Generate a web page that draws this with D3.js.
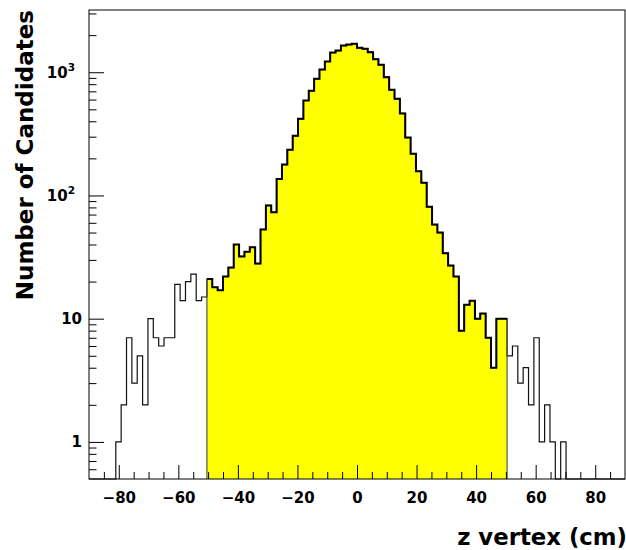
<!DOCTYPE html>
<html>
<head>
<meta charset="utf-8">
<script src="https://cdn.jsdelivr.net/npm/d3@7"></script>
<style>
  html, body { margin: 0; padding: 0; background: #fff; }
  svg { display: block; }
  text { font-family: "DejaVu Sans", sans-serif; font-weight: bold; fill: #000; }
</style>
</head>
<body>
<div id="chart"></div>
<script>
// histogram contents, 100 bins from -90 to 90 cm
const counts = [
  0, 0, 0, 0, 0, 1, 2, 7, 3, 5,
  2, 10, 7, 6, 7, 7, 19, 14, 20, 23,
  14, 15, 21, 18, 17, 22, 26, 40, 32, 35,
  38, 28, 53, 83, 73, 136, 178, 235, 305, 419,
  590, 707, 884, 1051, 1222, 1445, 1500, 1647, 1677, 1700,
  1578, 1548, 1455, 1277, 1149, 912, 720, 608, 463, 295,
  218, 157, 127, 81, 58, 50, 34, 27, 22, 8,
  13, 14, 10, 11, 7, 4, 10, 10, 5, 6,
  3, 4, 2, 7, 1, 2, 1, 0, 1, 0,
  0, 0, 0, 0, 0, 0, 0, 0, 0, 0
];
const xRange = [-90, 90];
const selBins = [22, 77];          // filled (yellow) bins, inclusive
const yRange = [0.5, 3200];

const xMajorTicks = [-80, -60, -40, -20, 0, 20, 40, 60, 80];
const xMinorTicks = [-85, -75, -70, -65, -55, -50, -45, -35, -30, -25, -15, -10, -5,
                     5, 10, 15, 25, 30, 35, 45, 50, 55, 65, 70, 75, 85];
const yMajorTicks = [1, 10, 100, 1000];
const yTickBase = ["1", "10", "10", "10"];
const yTickExp = ["", "", "2", "3"];
const yMinorTicks = [0.6, 0.7, 0.8, 0.9, 2, 3, 4, 5, 6, 7, 8, 9,
                     20, 30, 40, 50, 60, 70, 80, 90, 200, 300, 400, 500, 600, 700, 800, 900,
                     2000, 3000];
const xTitle = "z vertex (cm)";
const yTitle = "Number of Candidates";

const W = 626, H = 550;
const frame = { left: 89, right: 625, top: 10, bottom: 479 };

const svg = d3.select("#chart").append("svg")
  .attr("width", W).attr("height", H);

const x = d3.scaleLinear().domain(xRange).range([frame.left, frame.right]);
const y = d3.scaleLog().domain(yRange).range([frame.bottom, frame.top]);

const binW = (xRange[1] - xRange[0]) / counts.length;
const lo = i => xRange[0] + i * binW;

// step points for a range of bins
function stepPoints(from, to) {
  const pts = [[lo(from), yRange[0]]];
  for (let i = from; i <= to; i++) {
    const v = Math.max(counts[i], yRange[0]);
    pts.push([lo(i), v], [lo(i + 1), v]);
  }
  pts.push([lo(to + 1), yRange[0]]);
  return pts;
}

const line = d3.line().x(d => x(d[0])).y(d => y(d[1]));
const area = d3.area().x(d => x(d[0])).y0(y(yRange[0])).y1(d => y(d[1]));

// yellow part
svg.append("path")
  .attr("d", area(stepPoints(selBins[0], selBins[1])))
  .attr("fill", "#ffff00");

// full histogram outline
svg.append("path")
  .attr("d", line(stepPoints(0, counts.length - 1)))
  .attr("fill", "none")
  .attr("stroke", "#111")
  .attr("stroke-width", 1.2);

// edges of the yellow part
[selBins[0], selBins[1] + 1].forEach(function(b) {
  svg.append("line")
    .attr("x1", x(lo(b))).attr("x2", x(lo(b)))
    .attr("y1", y(yRange[0])).attr("y2", y(Math.max(counts[b === selBins[0] ? b : b - 1], yRange[0])))
    .attr("stroke", "#555").attr("stroke-width", 1.2);
});

// thicker top of the yellow part
const topPts = stepPoints(selBins[0], selBins[1]).slice(1, -1);
svg.append("path")
  .attr("d", line(topPts))
  .attr("fill", "none")
  .attr("stroke", "#000")
  .attr("stroke-width", 2);

// x axis ticks (pointing up into the frame)
const xAxisG = svg.append("g").attr("transform", `translate(0,${frame.bottom})`);
xAxisG.append("g")
  .call(d3.axisBottom(x).tickValues(xMinorTicks).tickSize(-7).tickFormat(""));
xAxisG.append("g")
  .call(d3.axisBottom(x).tickValues(xMajorTicks).tickSize(-14).tickPadding(13)
    .tickFormat(d3.format("d")));
xAxisG.selectAll(".domain").remove();
xAxisG.selectAll("line").attr("stroke", "#000");
xAxisG.selectAll("text")
  .style("font-size", "15px")
  .style("font-family", "'DejaVu Sans', sans-serif")
  .style("font-weight", "bold");

// y axis ticks (pointing right into the frame)
const yAxisG = svg.append("g").attr("transform", `translate(${frame.left},0)`);
yAxisG.append("g")
  .call(d3.axisLeft(y).tickValues(yMinorTicks).tickSize(-7.5).tickFormat(""));
yAxisG.append("g")
  .call(d3.axisLeft(y).tickValues(yMajorTicks).tickSize(-15).tickFormat(""));
yAxisG.selectAll(".domain").remove();
yAxisG.selectAll("line").attr("stroke", "#000");

// y tick labels with exponents
yMajorTicks.forEach(function(v, i) {
  const t = svg.append("text")
    .attr("x", yTickExp[i] ? 75 : 82)
    .attr("y", y(v) + 5.5)
    .attr("text-anchor", "end")
    .style("font-size", "15px");
  t.append("tspan").text(yTickBase[i]);
  if (yTickExp[i]) {
    t.append("tspan").attr("dy", -7).style("font-size", "10.5px").text(yTickExp[i]);
  }
});

// frame
svg.append("rect")
  .attr("x", frame.left).attr("y", frame.top)
  .attr("width", frame.right - frame.left).attr("height", frame.bottom - frame.top)
  .attr("fill", "none").attr("stroke", "#000").attr("stroke-width", 1);

// axis titles
svg.append("text")
  .attr("x", 627).attr("y", 545)
  .attr("text-anchor", "end")
  .style("font-size", "22.8px")
  .text(xTitle);

svg.append("text")
  .attr("transform", `translate(33,${frame.top}) rotate(-90)`)
  .attr("text-anchor", "end")
  .style("font-size", "23px")
  .text(yTitle);
</script>
</body>
</html>
